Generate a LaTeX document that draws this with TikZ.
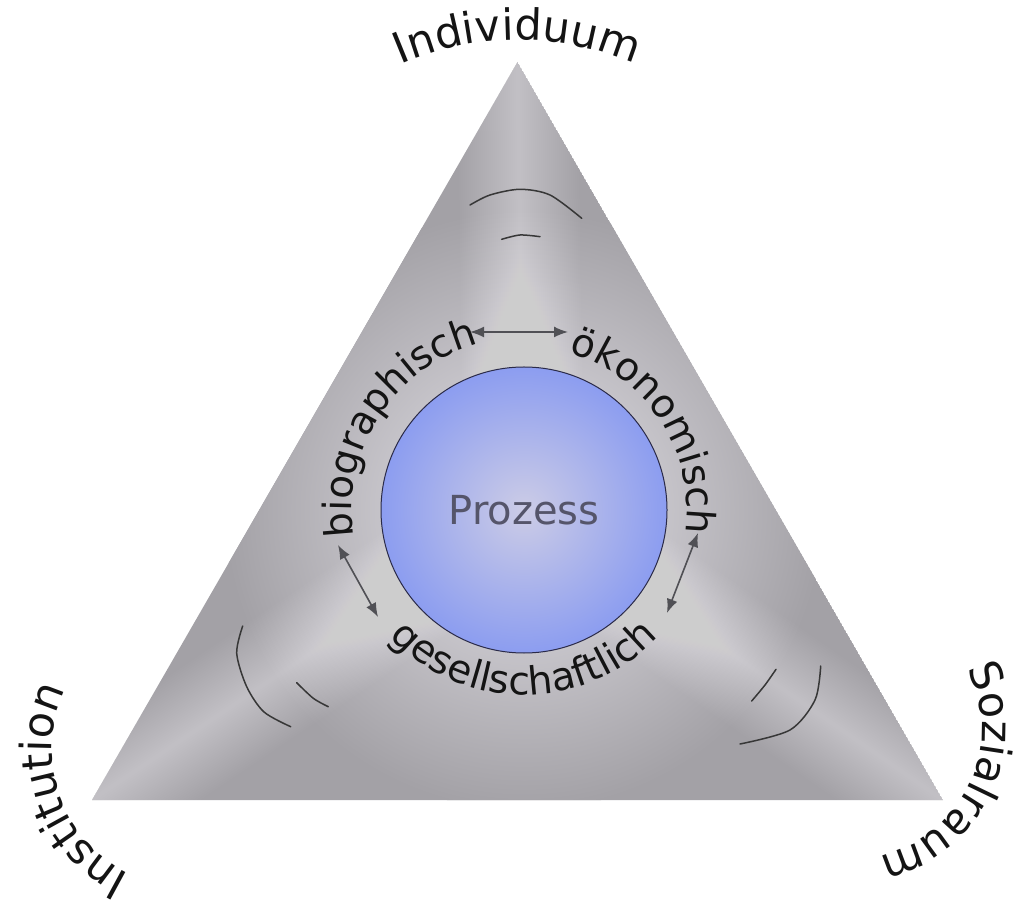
\documentclass[tikz,border=0pt]{standalone}
\usepackage{fontspec}
\setmainfont{DejaVu Sans}
\usepackage{xcolor}
\definecolor{cTri}{HTML}{A3A1A6}
\definecolor{cTriLight}{HTML}{E4E2E8}
\definecolor{cDisc}{HTML}{8C9DF0}
\definecolor{cDiscLight}{HTML}{CCCCE6}
\definecolor{cDiscEdge}{HTML}{2A2A48}
\definecolor{cInk}{HTML}{141414}
\definecolor{cSoft}{HTML}{55556A}
\definecolor{cArrow}{HTML}{505055}
\usetikzlibrary{arrows.meta,decorations.text}
\newcommand\cornerfont{\fontsize{43}{50}\selectfont}
\newcommand\ringfont{\fontsize{39}{46}\selectfont}
\tikzset{
  corner-label/.style={decorate,decoration={text along path,text align=center,
    text={|\cornerfont\color{cInk}|#1}}},
  ring-label/.style={decorate,decoration={text along path,text align=center,
    text={|\ringfont\color{cInk}|#1}}},
  node-disc/.style={circle,draw=cDiscEdge,line width=1pt,minimum size=286pt,
    inner color=cDiscLight,outer color=cDisc,text=cSoft,
    font=\fontsize{40}{48}\selectfont},
  arrow-both/.style={{Latex[length=14pt,width=11pt]}-{Latex[length=14pt,width=11pt]},
    line width=1.6pt,draw=cArrow},
  wave/.style={line width=1.5pt,draw=cInk!85,line cap=round},
  glow/.style={white,opacity=.018},
}

\begin{document}
\begin{tikzpicture}[x=1pt,y=1pt]
  \useasboundingbox (0,0) rectangle (1027,908);
  % corners of the triangle, middle of the disc
  \coordinate (apex)   at (517.5,846);
  \coordinate (base-l) at (92,108);
  \coordinate (base-r) at (943,108);
  \coordinate (mid)    at (524,398);

  % grey triangle, lighter round the middle and towards the corners
  \begin{scope}
    \clip (apex) -- (base-l) -- (base-r) -- cycle;
    \fill[cTri] (apex) -- (base-l) -- (base-r) -- cycle;
    \shade[inner color=cTriLight,outer color=cTri] (mid) circle (300);
    \foreach \c in {apex,base-l,base-r}
      \foreach \w in {4,8,...,120}
        \draw[glow,line width=\w pt] (mid) -- (\c);
  \end{scope}

  \node[node-disc] (proz) at (mid) {Prozess};

  % the three aspects round the disc
  \path[ring-label=biographisch] (mid) ++(207:172) arc[start angle=207,end angle=87,radius=172];
  \path[ring-label=ökonomisch] (mid) ++(93:163) arc[start angle=93,end angle=-27,radius=163];
  \path[ring-label=gesellschaftlich] (mid) ++(210:185) arc[start angle=210,end angle=330,radius=185];

  \coordinate (bo-l) at (470,576);
  \coordinate (bo-r) at (568,576);
  \coordinate (bg-u) at (338,363);
  \coordinate (bg-d) at (378,291);
  \coordinate (og-u) at (698,375);
  \coordinate (og-d) at (667,295);
  \draw[arrow-both] (bo-l) -- (bo-r);
  \draw[arrow-both] (bg-u) -- (bg-d);
  \draw[arrow-both] (og-u) -- (og-d);

  % waves towards the corners
  \draw[wave] plot[smooth] coordinates {(470,703) (490,713) (520,718.7) (550,713) (581.7,689.7)};
  \draw[wave] plot[smooth] coordinates {(501.7,668.7) (520,673) (540,671.3)};
  \draw[wave] plot[smooth] coordinates {(242.7,282) (236.7,254.7) (246.7,221.3) (263.9,196.1) (290.7,181.3)};
  \draw[wave] plot[smooth] coordinates {(296.7,225.3) (313.3,209.7) (328.3,201.3)};
  \draw[wave] plot[smooth] coordinates {(776,238.7) (765,223) (751.7,207)};
  \draw[wave] plot[smooth] coordinates {(820.7,242) (815,208) (790,178) (740,164)};

  % corner labels
  \path[corner-label=Individuum] (517.5,574) ++(125:294) arc[start angle=125,end angle=55,radius=294];
  \path[corner-label=Institution] (190,158) ++(264:138) arc[start angle=264,end angle=134,radius=138];
  \path[corner-label=Sozialraum] (853,179) ++(40:129) arc[start angle=40,end angle=-91,radius=129];
\end{tikzpicture}
\end{document}
